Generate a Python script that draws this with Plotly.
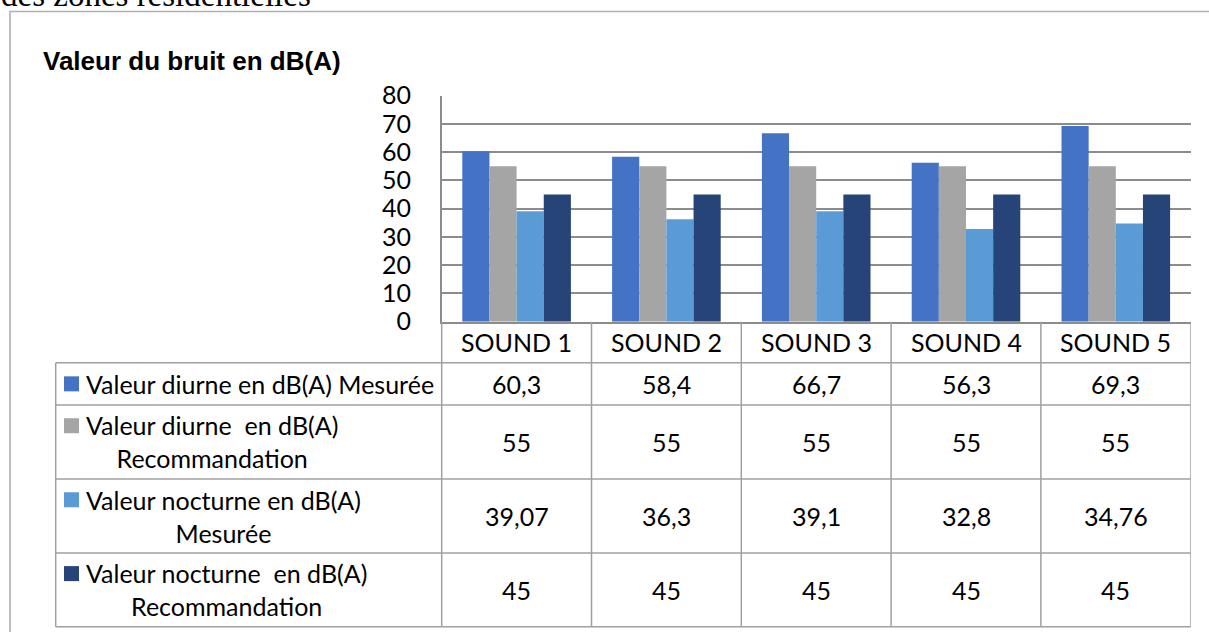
import plotly.graph_objects as go

# Noise measurements per sound point (dB(A))
categories = ["SOUND 1", "SOUND 2", "SOUND 3", "SOUND 4", "SOUND 5"]
series_names = [
    "Valeur diurne en dB(A) Mesurée",
    "Valeur diurne  en dB(A)<br>Recommandation",
    "Valeur nocturne en dB(A)<br>Mesurée",
    "Valeur nocturne  en dB(A)<br>Recommandation",
]
jour_mesure = [60.3, 58.4, 66.7, 56.3, 69.3]
jour_reco = [55, 55, 55, 55, 55]
nuit_mesure = [39.07, 36.3, 39.1, 32.8, 34.76]
nuit_reco = [45, 45, 45, 45, 45]
y_ticks = [0, 10, 20, 30, 40, 50, 60, 70, 80]

series_values = [jour_mesure, jour_reco, nuit_mesure, nuit_reco]
colors = ["#4472C4", "#A5A5A5", "#5B9BD5", "#264478"]

W, H = 1209, 632
FONT = "Lato"
FS = 25
GRID = "#8c8c8c"
TABLE = "#a0a0a0"


def px(x):
    return x / W


def py(y):
    return 1 - y / H


def fr(v):
    return f"{v:g}".replace(".", ",")


fig = go.Figure()
for name, vals, col in zip(series_names, series_values, colors):
    fig.add_trace(go.Bar(
        x=categories, y=vals, name=name.replace("<br>", " "),
        marker=dict(color=col, line=dict(width=0)),
        showlegend=False,
    ))

plot_left, plot_right = 441.7, 1190.7
plot_top, plot_bottom = 95.7, 321.7
row_edges = [362.7, 405, 479, 553, 626.7]
table_left = 55.7
line_h = 1.3 * FS

shapes = []
# outer frame
shapes.append(dict(type="rect", xref="paper", yref="paper",
                   x0=px(10), x1=px(1240), y0=py(11.5), y1=py(660),
                   line=dict(color="#b0b0b0", width=1.6)))
# table horizontal lines
for y in row_edges:
    shapes.append(dict(type="line", xref="paper", yref="paper",
                       x0=px(table_left), x1=px(plot_right), y0=py(y), y1=py(y),
                       line=dict(color=TABLE, width=1.5)))
# table vertical lines: legend column
shapes.append(dict(type="line", xref="paper", yref="paper",
                   x0=px(table_left), x1=px(table_left),
                   y0=py(row_edges[0]), y1=py(row_edges[-1]),
                   line=dict(color=TABLE, width=1.5)))
shapes.append(dict(type="line", xref="paper", yref="paper",
                   x0=px(plot_left), x1=px(plot_left),
                   y0=py(plot_bottom), y1=py(row_edges[-1]),
                   line=dict(color=TABLE, width=1.5)))
# category dividers
for i in range(len(categories)):
    xb = i + 0.5
    shapes.append(dict(type="line", xref="x", yref="paper",
                       x0=xb, x1=xb, y0=py(plot_bottom), y1=py(row_edges[-1]),
                       line=dict(color=TABLE, width=1.5)))

annotations = []
# clipped heading line of the page above the chart
annotations.append(dict(text="des zones résidentielles", xref="paper", yref="paper",
                        x=px(-1), y=py(15), xanchor="left", yanchor="bottom",
                        showarrow=False,
                        font=dict(family="Liberation Serif", size=33, color="black")))
# chart title
annotations.append(dict(text="<b>Valeur du bruit en dB(A)</b>", xref="paper", yref="paper",
                        x=px(41), y=py(61), xanchor="left", yanchor="middle",
                        showarrow=False,
                        font=dict(family="Liberation Sans", size=26, color="black")))
# header row
for c in categories:
    annotations.append(dict(text=c, xref="x", yref="paper", x=c,
                            y=py((plot_bottom + row_edges[0]) / 2),
                            xanchor="center", yanchor="middle", showarrow=False,
                            font=dict(family=FONT, size=FS, color="black")))
# data rows
for r, (name, vals, col) in enumerate(zip(series_names, series_values, colors)):
    y0, y1 = row_edges[r], row_edges[r + 1]
    yc = (y0 + y1) / 2
    nlines = name.count("<br>") + 1
    first_line_y = yc - (nlines - 1) * line_h / 2
    shapes.append(dict(type="rect", xref="paper", yref="paper",
                       x0=px(64), x1=px(79),
                       y0=py(first_line_y - 7.5), y1=py(first_line_y + 7.5),
                       fillcolor=col, line=dict(width=0)))
    annotations.append(dict(text=name, xref="paper", yref="paper",
                            x=px(84), y=py(yc), xanchor="left", yanchor="middle",
                            align="center", showarrow=False,
                            font=dict(family=FONT, size=FS, color="black")))
    for c, v in zip(categories, vals):
        annotations.append(dict(text=fr(v), xref="x", yref="paper", x=c, y=py(yc),
                                xanchor="center", yanchor="middle", showarrow=False,
                                font=dict(family=FONT, size=FS, color="black")))

fig.update_layout(
    width=W, height=H, autosize=False,
    margin=dict(l=0, r=0, t=0, b=0, pad=0, autoexpand=False),
    paper_bgcolor="white", plot_bgcolor="white",
    barmode="group", bargap=0.275, bargroupgap=0,
    shapes=shapes, annotations=annotations,
    xaxis=dict(domain=[px(plot_left), px(plot_right)], range=[-0.5, 4.5],
               automargin=False,
               showticklabels=False, showgrid=False, zeroline=False,
               showline=True, linecolor=GRID, linewidth=1.5, ticks=""),
    yaxis=dict(domain=[py(plot_bottom), py(plot_top)], range=[0, 80],
               automargin=False,
               tickvals=y_ticks, showgrid=True, gridcolor=GRID, gridwidth=1.5,
               zeroline=False, showline=True, linecolor=GRID, linewidth=1.5,
               ticks="", ticklabelstandoff=24,
               tickfont=dict(family=FONT, size=FS, color="black")),
)

fig.write_html("out.html")
